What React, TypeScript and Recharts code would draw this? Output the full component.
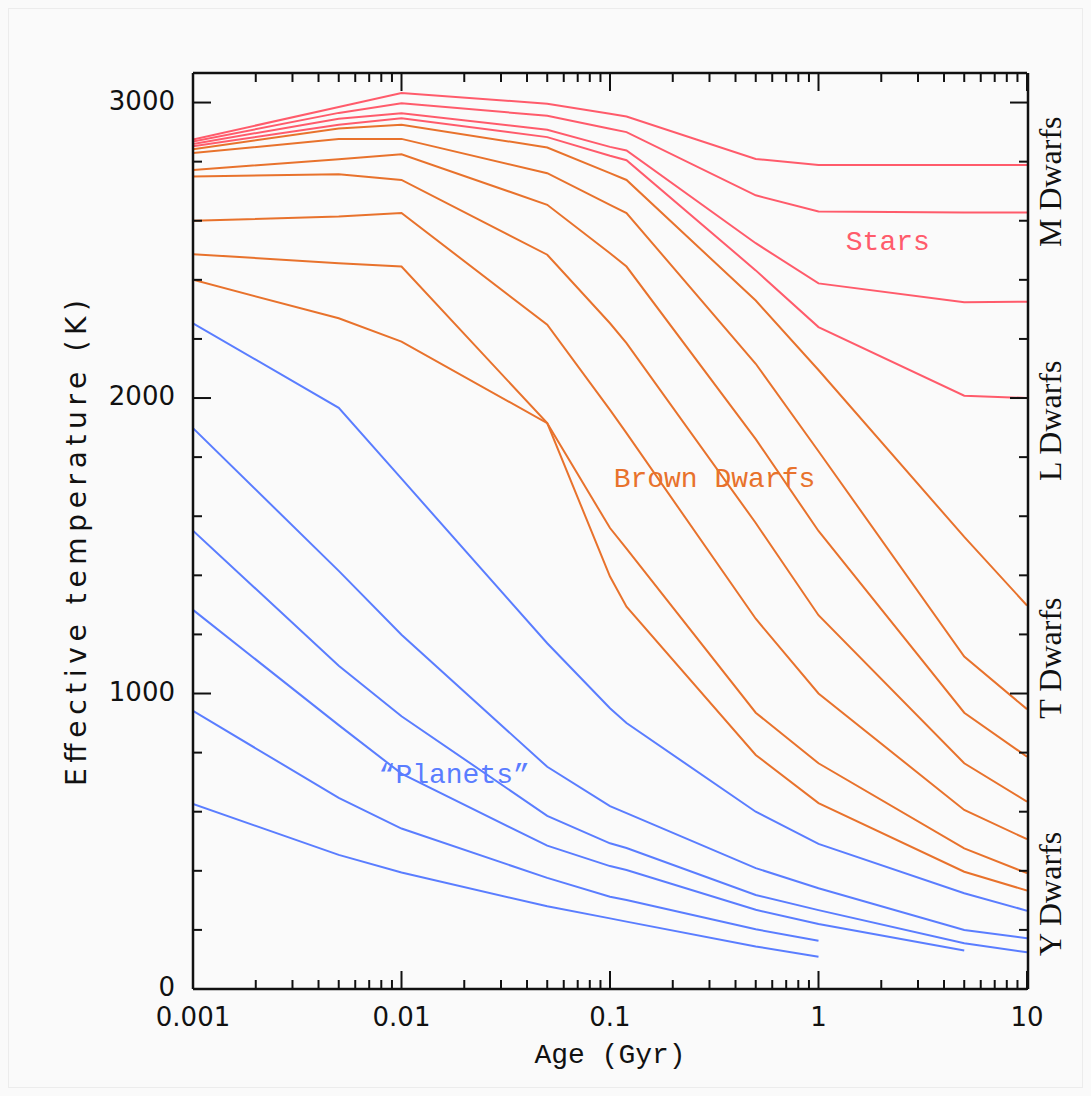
import { Label, Line, LineChart, ReferenceDot, XAxis, YAxis } from "recharts";

// ages (Gyr) at which the tracks are sampled
const AGES = [0.001, 0.005, 0.01, 0.05, 0.1, 0.12, 0.5, 1, 5, 10];

const STAR_1 = [2875, 2985, 3032, 2996, 2962, 2953, 2809, 2789, 2789, 2789];
const STAR_2 = [2868, 2965, 2998, 2955, 2911, 2900, 2686, 2631, 2628, 2628];
const STAR_3 = [2860, 2945, 2964, 2908, 2850, 2838, 2524, 2388, 2324, 2326];
const STAR_4 = [2852, 2925, 2947, 2883, 2820, 2805, 2432, 2240, 2008, 2000];

const BD_1 = [2842, 2912, 2925, 2848, 2761, 2738, 2330, 2095, 1530, 1298];
const BD_2 = [2829, 2877, 2877, 2761, 2654, 2626, 2116, 1820, 1125, 947];
const BD_3 = [2772, 2808, 2825, 2654, 2490, 2445, 1861, 1550, 935, 786];
const BD_4 = [2750, 2757, 2738, 2485, 2253, 2186, 1577, 1265, 764, 634];
const BD_5 = [2600, 2614, 2626, 2248, 1960, 1881, 1253, 1000, 606, 507];
const BD_6 = [2487, 2456, 2445, 1915, 1396, 1294, 792, 629, 397, 333];
const BD_7 = [2400, 2270, 2191, 1915, 1560, 1490, 935, 764, 476, 392];

const PL_1 = [2253, 1967, 1727, 1170, 950, 900, 600, 491, 324, 265];
const PL_2 = [1898, 1415, 1199, 752, 619, 595, 409, 341, 200, 172];
const PL_3 = [1551, 1094, 923, 586, 493, 477, 318, 267, 155, 124];
const PL_4 = [1283, 893, 729, 485, 416, 403, 268, 220, 130, null];
const PL_5 = [941, 647, 543, 376, 312, 301, 202, 163, null, null];
const PL_6 = [626, 454, 394, 280, 239, 228, 144, 109, null, null];

// axis ticks
const X_MAJOR = [0.001, 0.01, 0.1, 1, 10];
const X_MINOR = [
	0.002, 0.003, 0.004, 0.005, 0.006, 0.007, 0.008, 0.009, 0.02, 0.03, 0.04,
	0.05, 0.06, 0.07, 0.08, 0.09, 0.2, 0.3, 0.4, 0.5, 0.6, 0.7, 0.8, 0.9, 2, 3,
	4, 5, 6, 7, 8, 9,
];
const Y_MAJOR = [0, 1000, 2000, 3000];
const Y_MINOR = [
	200, 400, 600, 800, 1200, 1400, 1600, 1800, 2200, 2400, 2600, 2800,
];
const X_TICKS = [...X_MAJOR, ...X_MINOR].sort((a, b) => a - b);
const Y_TICKS = [...Y_MAJOR, ...Y_MINOR].sort((a, b) => a - b);

// spectral classes written up the right edge
const CLASS_NAMES = ["M Dwarfs", "L Dwarfs", "T Dwarfs", "Y Dwarfs"];
const CLASS_TEMPS = [2732, 1923, 1120, 322];

// group labels inside the plot
const NOTE_TEXT = ["Stars", "Brown Dwarfs", "\u201CPlanets\u201D"];
const NOTE_AGE = [2.15, 0.317, 0.0179];
const NOTE_TEMP = [2535, 1733, 731];

const STAR_COLOR = "#ff5b6b";
const BD_COLOR = "#e8722c";
const PL_COLOR = "#5a7dff";
const NOTE_COLORS = [STAR_COLOR, BD_COLOR, PL_COLOR];

const SERIES = [
	...[PL_1, PL_2, PL_3, PL_4, PL_5, PL_6].map((values, i) => ({
		key: `pl${i + 1}`,
		values,
		color: PL_COLOR,
	})),
	...[BD_1, BD_2, BD_3, BD_4, BD_5, BD_6, BD_7].map((values, i) => ({
		key: `bd${i + 1}`,
		values,
		color: BD_COLOR,
	})),
	...[STAR_1, STAR_2, STAR_3, STAR_4].map((values, i) => ({
		key: `star${i + 1}`,
		values,
		color: STAR_COLOR,
	})),
];

const SANS = '"DejaVu Sans", sans-serif';
const MONO = '"Liberation Mono", monospace';
const SERIF = '"Liberation Serif", serif';
const INK = "#111";
const MAJOR_LEN = 18;
const MINOR_LEN = 9;

const X_DOMAIN = [0.001, 10];
const Y_DOMAIN = [0, 3100];

// tick marks point into the plot; majors carry the numbers
function BottomTick({ x, y, payload }: any) {
	const major = X_MAJOR.includes(payload.value);
	return (
		<g>
			<line x1={x} x2={x} y1={y} y2={y - (major ? MAJOR_LEN : MINOR_LEN)} stroke={INK} strokeWidth={2} />
			{major && (
				<text x={x} y={y + 19} dy="0.71em" textAnchor="middle" fill={INK} fontSize={26} fontFamily={SANS}>
					{String(payload.value)}
				</text>
			)}
		</g>
	);
}

function TopTick({ x, y, payload }: any) {
	const major = X_MAJOR.includes(payload.value);
	return <line x1={x} x2={x} y1={y} y2={y + (major ? MAJOR_LEN : MINOR_LEN)} stroke={INK} strokeWidth={2} />;
}

function LeftTick({ x, y, payload }: any) {
	const major = Y_MAJOR.includes(payload.value);
	return (
		<g>
			<line x1={x} x2={x + (major ? MAJOR_LEN : MINOR_LEN)} y1={y} y2={y} stroke={INK} strokeWidth={2} />
			{major && (
				<text x={x - 18} y={y - 2} dy="0.355em" textAnchor="end" fill={INK} fontSize={26} fontFamily={SANS}>
					{String(payload.value)}
				</text>
			)}
		</g>
	);
}

function RightTick({ x, y, payload }: any) {
	const major = Y_MAJOR.includes(payload.value);
	return <line x1={x} x2={x - (major ? MAJOR_LEN : MINOR_LEN)} y1={y} y2={y} stroke={INK} strokeWidth={2} />;
}

function ClassTick({ x, y, payload }: any) {
	const idx = CLASS_TEMPS.indexOf(payload.value);
	const cx = x + 23;
	return (
		<text
			x={cx}
			y={y}
			transform={`rotate(-90 ${cx} ${y})`}
			textAnchor="middle"
			dominantBaseline="central"
			fill={INK}
			fontSize={32}
			fontFamily={SERIF}
		>
			{CLASS_NAMES[idx]}
		</text>
	);
}

export default function App() {
	const data = AGES.map((age, i) => {
		const row: Record<string, number | null> = { age };
		for (const s of SERIES) row[s.key] = s.values[i];
		return row;
	});

	const logX = {
		type: "number" as const,
		scale: "log" as const,
		dataKey: "age",
		domain: X_DOMAIN,
		allowDataOverflow: true,
		height: 1,
		interval: 0 as const,
		tickSize: 0,
		tickMargin: 0,
		tickLine: false,
	};
	const linY = {
		type: "number" as const,
		domain: Y_DOMAIN,
		allowDataOverflow: true,
		width: 1,
		interval: 0 as const,
		tickSize: 0,
		tickMargin: 0,
		tickLine: false,
	};
	const frame = { stroke: INK, strokeWidth: 2.5 };

	return (
		<div
			style={{
				position: "absolute",
				left: 0,
				top: 0,
				width: 1091,
				height: 1096,
				background: "#fafafa",
			}}
		>
			<div
				style={{
					position: "absolute",
					left: 8,
					top: 8,
					right: 8,
					bottom: 8,
					border: "1px solid #ececec",
				}}
			/>
			<LineChart
				width={1091}
				height={1096}
				data={data}
				margin={{ top: 72, right: 62, bottom: 106, left: 192 }}
				style={{ position: "absolute", left: 0, top: 0 }}
			>
				<XAxis {...logX} xAxisId="x" orientation="bottom" ticks={X_TICKS} axisLine={frame} tick={<BottomTick />}>
					<Label
						content={({ viewBox }: any) => (
							<text
								x={viewBox.x + viewBox.width / 2}
								y={viewBox.y + 66}
								textAnchor="middle"
								dominantBaseline="central"
								fill={INK}
								fontSize={28}
								fontFamily={MONO}
							>
								Age (Gyr)
							</text>
						)}
					/>
				</XAxis>
				<XAxis {...logX} xAxisId="top" orientation="top" ticks={X_TICKS} axisLine={frame} tick={<TopTick />} />
				<YAxis {...linY} yAxisId="y" orientation="left" ticks={Y_TICKS} axisLine={frame} tick={<LeftTick />}>
					<Label
						content={({ viewBox }: any) => {
							const cx = viewBox.x - 116;
							const cy = viewBox.y + viewBox.height / 2 + 12;
							return (
								<text
									x={cx}
									y={cy}
									transform={`rotate(-90 ${cx} ${cy})`}
									textAnchor="middle"
									dominantBaseline="central"
									fill={INK}
									fontSize={28}
									fontFamily={SANS}
									textLength={486}
									lengthAdjust="spacing"
								>
									Effective temperature (K)
								</text>
							);
						}}
					/>
				</YAxis>
				<YAxis {...linY} yAxisId="right" orientation="right" ticks={Y_TICKS} axisLine={frame} tick={<RightTick />} />
				<YAxis {...linY} yAxisId="cls" orientation="right" ticks={CLASS_TEMPS} axisLine={false} tick={<ClassTick />} />

				{SERIES.map((s) => (
					<Line
						key={s.key}
						xAxisId="x"
						yAxisId="y"
						type="linear"
						dataKey={s.key}
						stroke={s.color}
						strokeWidth={2}
						dot={false}
						activeDot={false}
						isAnimationActive={false}
					/>
				))}

				{NOTE_TEXT.map((text, i) => (
					<ReferenceDot
						key={text}
						xAxisId="x"
						yAxisId="y"
						x={NOTE_AGE[i]}
						y={NOTE_TEMP[i]}
						r={0}
						fill="none"
						stroke="none"
						label={{
							value: text,
							position: "center",
							fill: NOTE_COLORS[i],
							fontSize: 28,
							fontFamily: MONO,
						}}
					/>
				))}
			</LineChart>
		</div>
	);
}
